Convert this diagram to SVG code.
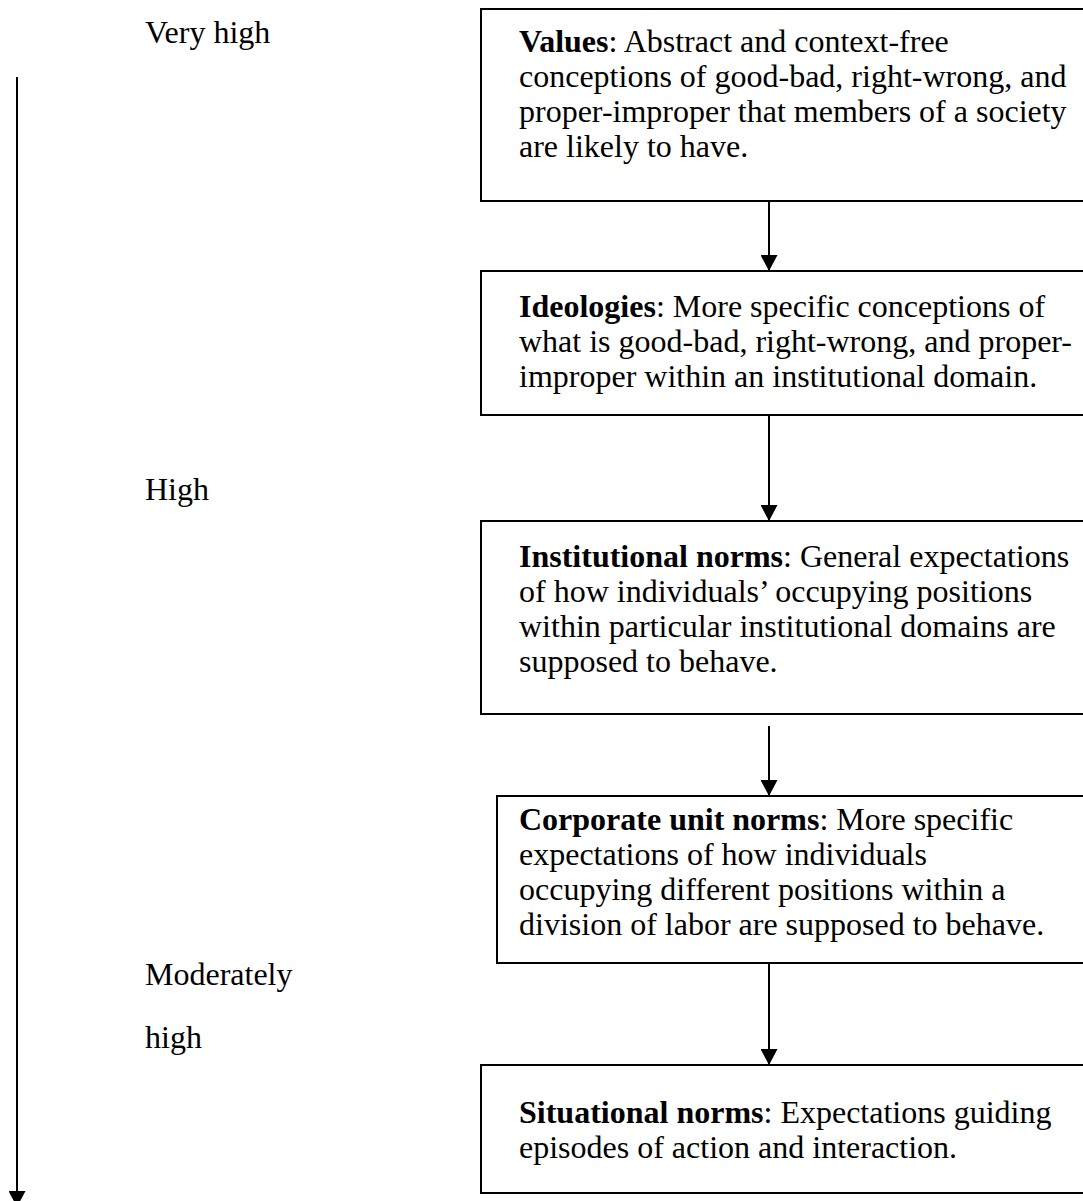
<svg xmlns="http://www.w3.org/2000/svg" width="1083" height="1201" viewBox="0 0 1083 1201">
  <style>
    .box { fill: #fff; stroke: #000; stroke-width: 2; }
    .t { font-family: "Liberation Serif", "Times New Roman", serif; font-size: 32px; fill: #000; }
    .b { font-weight: bold; }
    .conn { stroke: #000; stroke-width: 2; fill: none; }
  </style>
  <defs>
    <marker id="arrow" viewBox="0 0 16 17" refX="16" refY="8.5" markerWidth="16" markerHeight="17" markerUnits="userSpaceOnUse" orient="auto">
      <path d="M0,0 L16,8.5 L0,17 Z" fill="#000"/>
    </marker>
  </defs>
  <rect width="1083" height="1201" fill="#fff"/>

  <!-- scale labels -->
  <g id="scale-labels">
    <text class="t" x="145" y="43">Very high</text>
    <text class="t" x="145" y="500">High</text>
    <text class="t" x="145" y="985">Moderately</text>
    <text class="t" x="145" y="1048">high</text>
  </g>

  <g id="values">
    <rect class="box" x="481" y="9" width="610" height="192"/>
    <text class="t" x="519" y="52"><tspan class="b">Values</tspan>: Abstract and context-free</text>
    <text class="t" x="519" y="87">conceptions of good-bad, right-wrong, and</text>
    <text class="t" x="519" y="122">proper-improper that members of a society</text>
    <text class="t" x="519" y="157">are likely to have.</text>
  </g>

  <g id="ideologies">
    <rect class="box" x="481" y="271" width="610" height="144"/>
    <text class="t" x="519" y="317"><tspan class="b">Ideologies</tspan>: More specific conceptions of</text>
    <text class="t" x="519" y="352">what is good-bad, right-wrong, and proper-</text>
    <text class="t" x="519" y="387">improper within an institutional domain.</text>
  </g>

  <g id="institutional-norms">
    <rect class="box" x="481" y="521" width="610" height="193"/>
    <text class="t" x="519" y="567"><tspan class="b">Institutional norms</tspan>: General expectations</text>
    <text class="t" x="519" y="602">of how individuals’ occupying positions</text>
    <text class="t" x="519" y="637">within particular institutional domains are</text>
    <text class="t" x="519" y="672">supposed to behave.</text>
  </g>

  <g id="corporate-unit-norms">
    <rect class="box" x="497" y="796" width="594" height="167"/>
    <text class="t" x="519" y="830"><tspan class="b">Corporate unit norms</tspan>: More specific</text>
    <text class="t" x="519" y="865">expectations of how individuals</text>
    <text class="t" x="519" y="900">occupying different positions within a</text>
    <text class="t" x="519" y="935">division of labor are supposed to behave.</text>
  </g>

  <g id="situational-norms">
    <rect class="box" x="481" y="1065" width="610" height="128"/>
    <text class="t" x="519" y="1123"><tspan class="b">Situational norms</tspan>: Expectations guiding</text>
    <text class="t" x="519" y="1158">episodes of action and interaction.</text>
  </g>

  <g id="connectors">
    <line class="conn" x1="17" y1="77" x2="17" y2="1207" marker-end="url(#arrow)"/>
    <line class="conn" x1="769" y1="201" x2="769" y2="271" marker-end="url(#arrow)"/>
    <line class="conn" x1="769" y1="415" x2="769" y2="521" marker-end="url(#arrow)"/>
    <line class="conn" x1="769" y1="726" x2="769" y2="796" marker-end="url(#arrow)"/>
    <line class="conn" x1="769" y1="963" x2="769" y2="1065" marker-end="url(#arrow)"/>
  </g>
</svg>
